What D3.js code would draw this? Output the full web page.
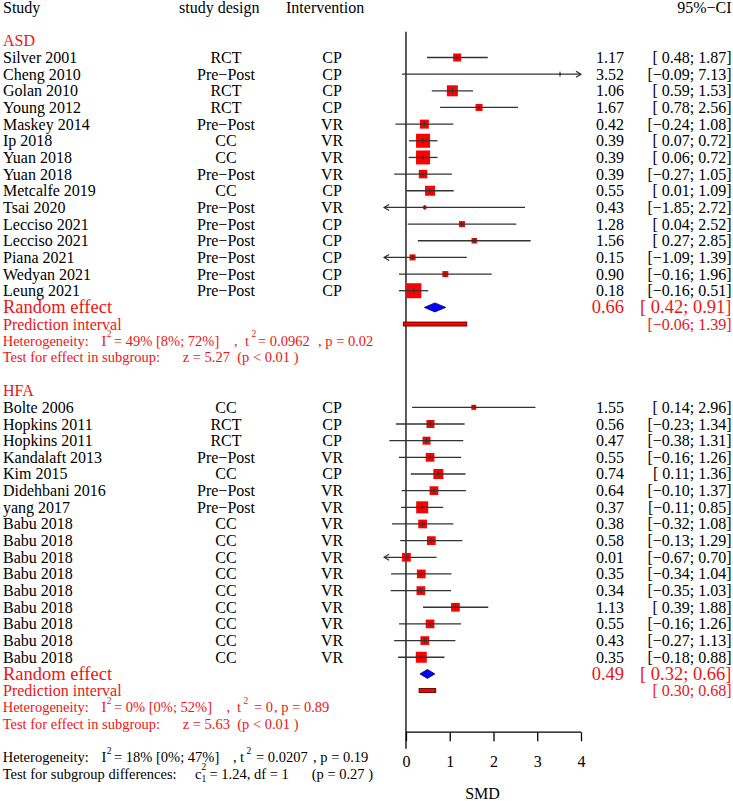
<!DOCTYPE html>
<html><head><meta charset="utf-8">
<script src="https://cdn.jsdelivr.net/npm/d3@7"></script>
<style>
body{margin:0;background:#fff;}
svg text{font-family:"Liberation Serif","Times New Roman",serif;white-space:pre;}
</style></head>
<body><svg id="c" width="733" height="801"></svg>
<script>
// ---------- data ----------
const asdStudies = ["Silver 2001","Cheng 2010","Golan 2010","Young 2012","Maskey 2014","Ip 2018","Yuan 2018","Yuan 2018","Metcalfe 2019","Tsai 2020","Lecciso 2021","Lecciso 2021","Piana 2021","Wedyan 2021","Leung 2021"];
const asdDesign = ["RCT","Pre−Post","RCT","RCT","Pre−Post","CC","CC","Pre−Post","CC","Pre−Post","Pre−Post","Pre−Post","Pre−Post","Pre−Post","Pre−Post"];
const asdIntervention = ["CP","CP","CP","CP","VR","VR","VR","VR","CP","VR","CP","CP","CP","CP","CP"];
const asdSMD = [1.17,3.52,1.06,1.67,0.42,0.39,0.39,0.39,0.55,0.43,1.28,1.56,0.15,0.90,0.18];
const asdLower = [0.48,-0.09,0.59,0.78,-0.24,0.07,0.06,-0.27,0.01,-1.85,0.04,0.27,-1.09,-0.16,-0.16];
const asdUpper = [1.87,7.13,1.53,2.56,1.08,0.72,0.72,1.05,1.09,2.72,2.52,2.85,1.39,1.96,0.51];
const asdWeight = [6.4,0.4,12.1,4.9,8.1,19.6,19.6,7.2,10,1.2,3.6,3.0,3.6,3.6,22.5];

const hfaStudies = ["Bolte 2006","Hopkins 2011","Hopkins 2011","Kandalaft 2013","Kim 2015","Didehbani 2016","yang 2017","Babu 2018","Babu 2018","Babu 2018","Babu 2018","Babu 2018","Babu 2018","Babu 2018","Babu 2018","Babu 2018"];
const hfaDesign = ["CC","RCT","RCT","Pre−Post","CC","Pre−Post","Pre−Post","CC","CC","CC","CC","CC","CC","CC","CC","CC"];
const hfaIntervention = ["CP","CP","CP","VR","CP","VR","VR","VR","VR","VR","VR","VR","VR","VR","VR","VR"];
const hfaSMD = [1.55,0.56,0.47,0.55,0.74,0.64,0.37,0.38,0.58,0.01,0.35,0.34,1.13,0.55,0.43,0.35];
const hfaLower = [0.14,-0.23,-0.38,-0.16,0.11,-0.10,-0.11,-0.32,-0.13,-0.67,-0.34,-0.35,0.39,-0.16,-0.27,-0.18];
const hfaUpper = [2.96,1.34,1.31,1.26,1.36,1.37,0.85,1.08,1.29,0.70,1.04,1.03,1.88,1.26,1.13,0.88];
const hfaWeight = [2.5,6.4,6.4,7.6,10,7.6,14.4,7.6,7.6,7.6,7.6,7.6,7.6,7.6,7.6,12.1];

const groupNames = ["ASD","HFA"];
const reEst = [0.66,0.49];
const reLower = [0.42,0.32];
const reUpper = [0.91,0.66];
const piLower = [-0.06,0.30];
const piUpper = [1.39,0.68];
const hetText = [
  ["= 49% [8%; 72%]", "= 0.0962", ", p = 0.02"],
  ["= 0% [0%; 52%]", "= 0", ", p = 0.89"]
];
const overallHet = ["= 18% [0%; 47%]", "= 0.0207", ", p = 0.19"];
const testZ = ["z = 5.27  (p < 0.01 )","z = 5.63  (p < 0.01 )"];
const xTicks = [0,1,2,3,4];
const axisLabel = "SMD";

// ---------- layout ----------
const svg = d3.select("#c");
const RED = "#ff0000";
const TRED = "#ee1414";
const FONT = 16, SMALL = 14.5, SUP = 9.5;
const x = d3.scaleLinear().domain([-0.5,4]).range([384.1,581]);
const y = d3.scaleLinear().domain([0,46]).range([7.5, 7.5+46*16.66]);
const side = d3.scaleSqrt().domain([0,22.5]).range([0,15]);
const f2 = v => (v<0?"−":" ") + d3.format(".2f")(Math.abs(v));
const ciStr = (lo,hi) => "[" + f2(lo) + "; " + f2(hi).trim() + "]";
const X_EST = 624, X_CI = 731.5;

function txt(xp, yp, s, opt={}) {
  return svg.append("text").attr("x",xp).attr("y",yp)
    .attr("dominant-baseline","central")
    .attr("text-anchor",opt.anchor||"start")
    .attr("font-size",opt.size||FONT)
    .attr("fill",opt.color||"#000").text(s);
}

// header
txt(3, y(0), "Study");
txt(179, y(0), "study design");
txt(286, y(0), "Intervention");
txt(X_CI, y(0), "95%−CI", {anchor:"end"});

// reference line at 0
svg.append("line").attr("x1",x(0)).attr("x2",x(0)).attr("y1",y(1.45)).attr("y2",y(44.5))
  .attr("stroke","#000").attr("stroke-width",1.3);

function drawStudies(startRow, names, design, interv, est, lo, hi, w) {
  names.forEach((n,i)=>{
    const r = startRow+i, yy = y(r);
    txt(3, yy, n);
    txt(226, yy, design[i], {anchor:"middle"});
    txt(332, yy, interv[i], {anchor:"middle"});
    txt(X_EST, yy, d3.format(".2f")(est[i]), {anchor:"end"});
    txt(X_CI, yy, ciStr(lo[i],hi[i]), {anchor:"end"});
    const s = side(w[i]);
    svg.append("rect").attr("x",x(est[i])-s/2).attr("y",yy-s/2).attr("width",s).attr("height",s)
      .attr("fill",RED);
    const l = Math.max(lo[i],-0.5), h = Math.min(hi[i],4);
    svg.append("line").attr("x1",x(l)).attr("x2",x(h)).attr("y1",yy).attr("y2",yy)
      .attr("stroke","#333").attr("stroke-width",1.3);
    svg.append("line").attr("x1",x(est[i])).attr("x2",x(est[i])).attr("y1",yy-2.5).attr("y2",yy+2.5)
      .attr("stroke","#333").attr("stroke-width",1);
    if (hi[i] > 4) {
      const t = x(4);
      svg.append("path").attr("d",`M${t-5},${yy-3}L${t},${yy}L${t-5},${yy+3}`)
        .attr("fill","none").attr("stroke","#333").attr("stroke-width",1.2);
    }
    if (lo[i] < -0.5) {
      const t = x(-0.5);
      svg.append("path").attr("d",`M${t+5},${yy-3}L${t},${yy}L${t+5},${yy+3}`)
        .attr("fill","none").attr("stroke","#333").attr("stroke-width",1.2);
    }
  });
}

function drawSummary(g, row) {
  const yy = y(row);
  txt(3, yy, "Random effect", {size:18.5, color:TRED});
  txt(X_EST, yy, d3.format(".2f")(reEst[g]), {anchor:"end", size:18.5, color:TRED});
  txt(X_CI, yy, ciStr(reLower[g],reUpper[g]), {anchor:"end", size:18.5, color:TRED});
  svg.append("path").attr("d",`M${x(reLower[g])},${yy}L${x(reEst[g])},${yy-4.5}L${x(reUpper[g])},${yy}L${x(reEst[g])},${yy+4.5}Z`)
    .attr("fill","#0000ff").attr("stroke","#00006a").attr("stroke-width",0.8);
  const y2 = y(row+1);
  txt(3, y2, "Prediction interval", {color:TRED});
  txt(X_CI, y2, ciStr(piLower[g],piUpper[g]), {anchor:"end", color:TRED});
  svg.append("rect").attr("x",x(piLower[g])).attr("y",y2-2).attr("width",x(piUpper[g])-x(piLower[g])).attr("height",4)
    .attr("fill",RED).attr("stroke","#5a0000").attr("stroke-width",0.9);
}

// heterogeneity line built from separate text pieces
function hetLine(yy, parts, pos, color) {
  const o = {size:SMALL, color};
  txt(2.7, yy, "Heterogeneity:", o);
  txt(101.5, yy, "I", o);
  txt(106.8, yy-6.5, "2", {size:SUP, color});
  txt(114, yy, parts[0], o);
  txt(pos[0], yy, ",", o);
  txt(pos[1], yy, "t", o);
  txt(pos[1]+6.5, yy-6.5, "2", {size:SUP, color});
  txt(pos[2], yy, parts[1], o);
  txt(pos[3], yy, parts[2], o);
}

// ASD
txt(3, y(2), groupNames[0], {color:TRED});
drawStudies(3, asdStudies, asdDesign, asdIntervention, asdSMD, asdLower, asdUpper, asdWeight);
drawSummary(0, 18);
hetLine(y(20), hetText[0], [234,245,258,318], TRED);
txt(2.7, y(21), "Test for effect in subgroup:", {size:SMALL, color:TRED});
txt(182.7, y(21), testZ[0], {size:SMALL, color:TRED});

// HFA
txt(3, y(23), groupNames[1], {color:TRED});
drawStudies(24, hfaStudies, hfaDesign, hfaIntervention, hfaSMD, hfaLower, hfaUpper, hfaWeight);
drawSummary(1, 40);
hetLine(y(42), hetText[1], [226.5,237,254,274], TRED);
txt(2.7, y(43), "Test for effect in subgroup:", {size:SMALL, color:TRED});
txt(182.7, y(43), testZ[1], {size:SMALL, color:TRED});

// overall
hetLine(y(45), overallHet, [233,240,256,313], "#000");
{
  const yy = y(46);
  txt(2.7, yy, "Test for subgroup differences:", {size:SMALL});
  txt(195, yy, "c", {size:SMALL});
  txt(201.5, yy-6.5, "2", {size:SUP});
  txt(201.5, yy+5.5, "1", {size:SUP});
  txt(209.5, yy, "= 1.24, df = 1", {size:SMALL});
  txt(311.7, yy, "(p = 0.27 )", {size:SMALL});
}

// axis
const axY = y(43.5);
const axis = d3.axisBottom(d3.scaleLinear().domain([0,4]).range([x(0),x(4)]))
  .tickValues(xTicks).tickSize(9).tickPadding(14).tickFormat(d3.format("d"));
const ag = svg.append("g").attr("transform",`translate(0,${axY})`).call(axis);
ag.select(".domain").attr("d",`M${x(0)},0H${x(4)}`).attr("stroke","#000").attr("stroke-width",1.3);
ag.selectAll(".tick line").attr("stroke","#000").attr("stroke-width",1.3);
ag.selectAll(".tick text").attr("font-family","Liberation Serif, Times New Roman, serif")
  .attr("font-size",FONT).attr("fill","#000");
txt((x(-0.5)+x(4))/2, 793.5, axisLabel, {anchor:"middle"});
</script>
</body></html>
